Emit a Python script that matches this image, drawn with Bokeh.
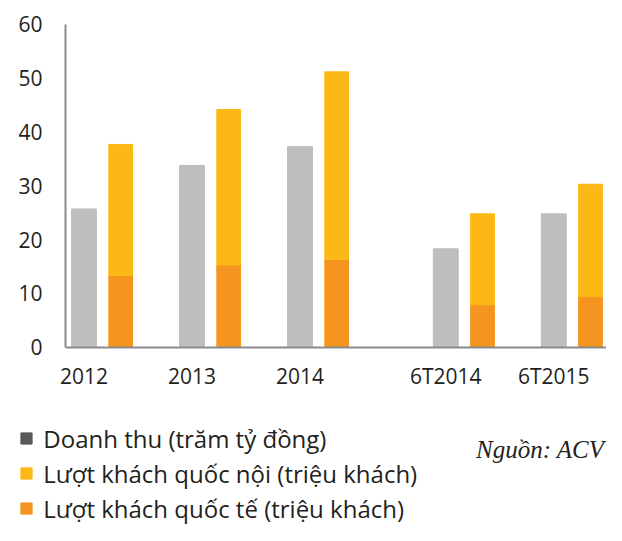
from bokeh.plotting import figure
from bokeh.models import (Range1d, FixedTicker, CustomJSTickFormatter, Legend,
                          LegendItem, Label, ColumnDataSource)
from bokeh.transform import dodge
from bokeh.embed import file_html
from bokeh.resources import INLINE

# ---- data ----
categories = ["2012", "2013", "2014", "6T2014", "6T2015"]
revenue = [25.7, 33.8, 37.3, 18.3, 24.8]          # Doanh thu (trăm tỷ đồng)
intl = [13.3, 15.3, 16.3, 7.9, 9.4]               # Lượt khách quốc tế
domestic = [24.4, 28.9, 34.9, 16.9, 20.9]         # Lượt khách quốc nội
y_ticks = [0, 10, 20, 30, 40, 50, 60]
legend_labels = ["Doanh thu (trăm tỷ đồng)",
                 "Lượt khách quốc nội (triệu khách)",
                 "Lượt khách quốc tế (triệu khách)"]
source_note = "Nguồn: ACV"

# ---- styling / layout ----
GREY = "#bebebe"
GREY_MARK = "#595959"
YELLOW = "#fcb815"
ORANGE = "#f5951f"
AXIS = "#8a8a8a"
TEXT = "#231f20"
FONT = "Open Sans"
W, H = 606, 525

GAP = 0.35
X_AXIS_AT = -0.17
X_END = 4.84
xpos = [i + (GAP if i >= 3 else 0) for i in range(len(categories))]
src = ColumnDataSource(dict(x=xpos, revenue=revenue, intl=intl, domestic=domestic))

p = figure(width=W, height=H, x_range=Range1d(-0.773, 4.838), y_range=Range1d(-33.15, 64.46),
           output_backend="svg", toolbar_location=None,
           min_border=0, min_border_left=0, min_border_right=0,
           min_border_top=0, min_border_bottom=0)
p.outline_line_color = None
p.xgrid.visible = False
p.ygrid.visible = False

p.vbar(x="x", top="revenue", width=0.23, color=GREY, source=src)
p.vbar_stack(["intl", "domestic"], x=dodge("x", 0.34), width=0.22,
             color=[ORANGE, YELLOW], source=src)

for ax in (p.xaxis[0], p.yaxis[0]):
    ax.axis_line_color = AXIS
    ax.axis_line_width = 2
    ax.major_tick_in = 0
    ax.major_tick_out = 0
    ax.minor_tick_in = 0
    ax.minor_tick_out = 0
    ax.major_label_text_font = FONT
    ax.major_label_text_font_size = "21px"
    ax.major_label_text_color = TEXT

p.yaxis.fixed_location = X_AXIS_AT
p.yaxis.bounds = (y_ticks[0], y_ticks[-1])
p.yaxis.ticker = FixedTicker(ticks=y_ticks)
p.yaxis.major_label_standoff = 23

p.xaxis.fixed_location = 0
p.xaxis.bounds = (X_AXIS_AT, X_END)
p.xaxis.ticker = FixedTicker(ticks=xpos)
p.xaxis.major_label_standoff = 15
p.xaxis.formatter = CustomJSTickFormatter(args=dict(pos=xpos, labels=categories), code="""
let best = 0, d = 1e9;
for (let i = 0; i < pos.length; i++) {
  const dd = Math.abs(pos[i] - tick);
  if (dd < d) { d = dd; best = i; }
}
return labels[best];
""")

# ---- legend (square markers) ----
items = []
nan = float("nan")
for lab, col in zip(legend_labels, [GREY_MARK, YELLOW, ORANGE]):
    r = p.scatter(x=[nan], y=[nan], marker="square", size=11, color=col)
    items.append(LegendItem(label=lab, renderers=[r]))

legend = Legend(items=items, location=(12.3, 0), orientation="vertical",
                glyph_width=28, glyph_height=28, label_height=34, spacing=1,
                label_standoff=3, padding=0, margin=0,
                label_text_font=FONT, label_text_font_size="24px", label_text_color=TEXT,
                border_line_alpha=0, background_fill_alpha=0)
p.add_layout(legend, "center")

note = Label(x=604, y=76, x_units="screen", y_units="screen", text=source_note,
             text_align="right", text_baseline="alphabetic",
             text_font="Liberation Serif", text_font_style="italic",
             text_font_size="25px", text_color=TEXT)
p.add_layout(note)

open("out.html", "w").write(file_html(p, INLINE))
